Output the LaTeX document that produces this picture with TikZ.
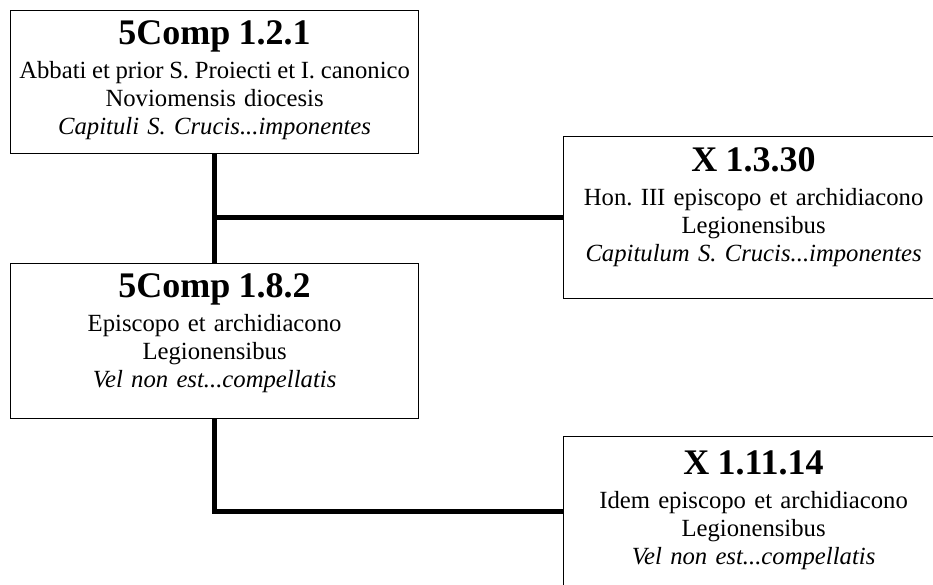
\documentclass[tikz,border=0pt]{standalone}
\usepackage{fontspec}
\setmainfont{Liberation Serif}
\begin{document}
\frenchspacing
\begin{tikzpicture}[x=1pt, y=-1pt, every node/.style={font=\fontsize{24.7}{28}\selectfont}, align=center,
  entry/.style={draw, line width=1.2pt, inner ysep=0pt, inner xsep=-8pt, anchor=north west},
  link/.style={line width=5pt}]

\useasboundingbox (0,0) rectangle (933,584);
\clip (0,0) rectangle (933,584);

% Nodes
\node (c121) [entry, text width=424pt, text height=34pt, text depth=109pt] at (10,10) {{\fontsize{36}{36}\selectfont\textbf{5Comp 1.2.1}} \\[6pt] {\spaceskip=5.3pt plus 1pt Abbati et prior S. Proiecti et I. canonico} \\ Noviomensis diocesis \\ \textit{Capituli S. Crucis...imponentes}};
\node (c1330) [entry, text width=396pt, text height=35pt, text depth=127pt] at (563,136) {{\fontsize{36}{36}\selectfont\textbf{X 1.3.30}} \\[6pt] Hon. III episcopo et archidiacono \\ Legionensibus \\ \textit{Capitulum S. Crucis...imponentes}};
\node (c182) [entry, text width=424pt, text height=34pt, text depth=121pt] at (10,263) {{\fontsize{36}{36}\selectfont\textbf{5Comp 1.8.2}} \\[6pt] Episcopo et archidiacono \\ Legionensibus \\ \textit{Vel non est...compellatis}};
\node (c11114) [entry, text width=396pt, text height=38pt, text depth=112pt] at (563,436) {{\fontsize{36}{36}\selectfont\textbf{X 1.11.14}} \\[6pt] Idem episcopo et archidiacono \\ Legionensibus \\ \textit{Vel non est...compellatis}};

% Connectors
\draw[link] (c121.south) -- (c182.north);
\draw[link] (c1330.west) -- (c1330.west -| c121.south);
\draw[link] (c182.south) |- (c11114.west);

\end{tikzpicture}
\end{document}
